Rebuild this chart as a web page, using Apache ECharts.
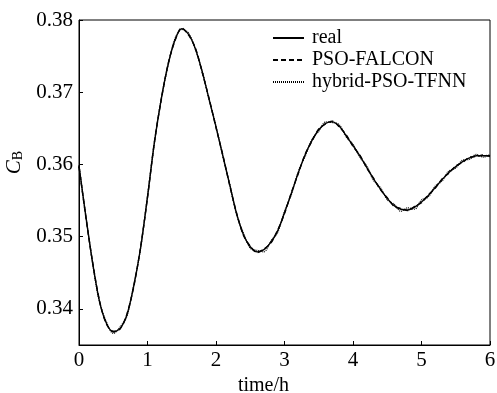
<!DOCTYPE html>
<html><head><meta charset="utf-8">
<script src="https://cdn.jsdelivr.net/npm/echarts@6/dist/echarts.min.js"></script>
<style>html,body{margin:0;padding:0;background:#fff}#c{width:497px;height:393px}</style>
</head><body><div id="c"></div>
<script>
const times = [0.0,0.1,0.2,0.3,0.4,0.5,0.6,0.7,0.8,0.9,1.0,1.1,1.2,1.3,1.4,1.5,1.6,1.7,1.8,1.9,2.0,2.1,2.2,2.3,2.4,2.5,2.6,2.7,2.8,2.9,3.0,3.1,3.2,3.3,3.4,3.5,3.6,3.7,3.8,3.9,4.0,4.1,4.2,4.3,4.4,4.5,4.6,4.7,4.8,4.9,5.0,5.1,5.2,5.3,5.4,5.5,5.6,5.7,5.8,5.9,6.0];
const real = [0.3598,0.3528,0.3463,0.3410,0.3380,0.3368,0.3373,0.3392,0.3432,0.3485,0.3555,0.3630,0.3690,0.3738,0.3772,0.3788,0.3780,0.3760,0.3728,0.3690,0.3652,0.3612,0.3572,0.3532,0.3503,0.3486,0.3479,0.3482,0.3492,0.3508,0.3533,0.3560,0.3588,0.3613,0.3633,0.3648,0.3657,0.3659,0.3653,0.3640,0.3626,0.3612,0.3596,0.3580,0.3566,0.3553,0.3543,0.3538,0.3537,0.3541,0.3548,0.3557,0.3568,0.3579,0.3589,0.3597,0.3604,0.3609,0.3612,0.3612,0.3612];
const psoFalcon = [0.3597,0.3527,0.3464,0.3411,0.3379,0.3369,0.3372,0.3393,0.3431,0.3486,0.3554,0.3631,0.3689,0.3739,0.3771,0.3789,0.3779,0.3761,0.3727,0.3691,0.3651,0.3613,0.3571,0.3533,0.3502,0.3487,0.3478,0.3483,0.3491,0.3509,0.3532,0.3561,0.3587,0.3614,0.3632,0.3649,0.3656,0.3660,0.3652,0.3641,0.3625,0.3613,0.3595,0.3581,0.3565,0.3554,0.3542,0.3539,0.3536,0.3542,0.3547,0.3558,0.3567,0.3580,0.3588,0.3598,0.3603,0.3610,0.3611,0.3613,0.3611];
const hybrid = [0.3599,0.3529,0.3462,0.3409,0.3382,0.3366,0.3375,0.3390,0.3434,0.3484,0.3556,0.3629,0.3691,0.3737,0.3774,0.3787,0.3782,0.3759,0.3729,0.3689,0.3653,0.3611,0.3573,0.3531,0.3505,0.3484,0.3481,0.3479,0.3494,0.3506,0.3535,0.3558,0.3590,0.3611,0.3635,0.3646,0.3659,0.3658,0.3655,0.3638,0.3628,0.3610,0.3598,0.3578,0.3568,0.3551,0.3545,0.3535,0.3540,0.3538,0.3551,0.3555,0.3570,0.3577,0.3591,0.3595,0.3606,0.3607,0.3614,0.3610,0.3614];
const xTicks = [0,1,2,3,4,5,6];
const yTicks = [0.34,0.35,0.36,0.37,0.38];

const font = 'Liberation Serif';
const toPairs = arr => times.map((t,i)=>[t,arr[i]]);
const chart = echarts.init(document.getElementById('c'));
chart.setOption({
  animation:false,
  backgroundColor:'#fff',
  grid:{left:79,right:7,top:20,bottom:48,outerBoundsMode:'none',containLabel:false,show:true,borderColor:'#000',borderWidth:1,backgroundColor:'transparent'},
  legend:{
    orient:'vertical', left:267, top:22, itemWidth:31, itemHeight:10, itemGap:0,
    itemStyle:{opacity:0},
    textStyle:{fontFamily:font,fontSize:20,color:'#000',lineHeight:22,padding:[0,0,0,3]},
    data:['real','PSO-FALCON','hybrid-PSO-TFNN']
  },
  xAxis:{
    type:'value', min:0, max:6, interval:1,
    name:'time/h', nameLocation:'middle', nameGap:30,
    nameTextStyle:{fontFamily:font,fontSize:20,color:'#000',padding:[0,42,0,0]},
    axisLine:{lineStyle:{color:'#000',width:1}},
    axisTick:{inside:true,length:4,lineStyle:{color:'#000'}},
    axisLabel:{fontFamily:font,fontSize:21,color:'#000',margin:5},
    splitLine:{show:false}
  },
  yAxis:{
    type:'value', min:0.335, max:0.38,
    name:'{i|C}{s|B}', nameLocation:'middle', nameGap:47, nameRotate:90,
    nameTextStyle:{padding:[0,0,0,40],rich:{i:{fontFamily:font,fontStyle:'italic',fontSize:21,color:'#000'},s:{fontFamily:font,fontSize:14,color:'#000',padding:[7,0,0,0]}}},
    axisLine:{lineStyle:{color:'#000',width:1}},
    axisTick:{inside:true,length:4,lineStyle:{color:'#000'},customValues:yTicks},
    axisLabel:{fontFamily:font,fontSize:21,color:'#000',margin:6,customValues:yTicks,formatter:v=>v.toFixed(2)},
    splitLine:{show:false}
  },
  series:[
    {name:'real',type:'line',data:toPairs(real),symbol:'none',smooth:0.3,lineStyle:{color:'#000',width:1.4,type:'solid'},itemStyle:{color:'#000'}},
    {name:'PSO-FALCON',type:'line',data:toPairs(psoFalcon),symbol:'none',smooth:0.3,lineStyle:{color:'#000',width:1.4,type:[5,3]},itemStyle:{color:'#000'}},
    {name:'hybrid-PSO-TFNN',type:'line',data:toPairs(hybrid),symbol:'none',smooth:0.3,lineStyle:{color:'#000',width:1.2,type:[1,1]},itemStyle:{color:'#000'}}
  ]
});
</script></body></html>
